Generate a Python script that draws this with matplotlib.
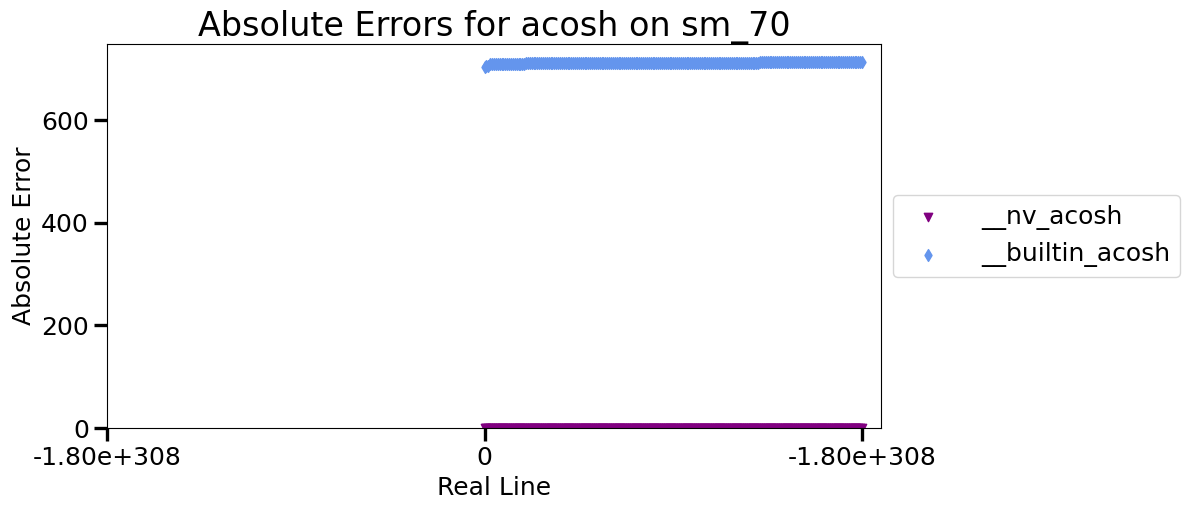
import matplotlib
matplotlib.use("Agg")
import matplotlib.pyplot as plt

# x positions in units of the largest double (~1.80e+308)
x_points = [
    0.000, 0.005, 0.010, 0.015, 0.020, 0.025, 0.030, 0.035, 0.040, 0.045,
    0.050, 0.055, 0.060, 0.065, 0.070, 0.075, 0.080, 0.085, 0.090, 0.095,
    0.100, 0.105, 0.110, 0.115, 0.120, 0.125, 0.130, 0.135, 0.140, 0.145,
    0.150, 0.155, 0.160, 0.165, 0.170, 0.175, 0.180, 0.185, 0.190, 0.195,
    0.200, 0.205, 0.210, 0.215, 0.220, 0.225, 0.230, 0.235, 0.240, 0.245,
    0.250, 0.255, 0.260, 0.265, 0.270, 0.275, 0.280, 0.285, 0.290, 0.295,
    0.300, 0.305, 0.310, 0.315, 0.320, 0.325, 0.330, 0.335, 0.340, 0.345,
    0.350, 0.355, 0.360, 0.365, 0.370, 0.375, 0.380, 0.385, 0.390, 0.395,
    0.400, 0.405, 0.410, 0.415, 0.420, 0.425, 0.430, 0.435, 0.440, 0.445,
    0.450, 0.455, 0.460, 0.465, 0.470, 0.475, 0.480, 0.485, 0.490, 0.495,
    0.500, 0.505, 0.510, 0.515, 0.520, 0.525, 0.530, 0.535, 0.540, 0.545,
    0.550, 0.555, 0.560, 0.565, 0.570, 0.575, 0.580, 0.585, 0.590, 0.595,
    0.600, 0.605, 0.610, 0.615, 0.620, 0.625, 0.630, 0.635, 0.640, 0.645,
    0.650, 0.655, 0.660, 0.665, 0.670, 0.675, 0.680, 0.685, 0.690, 0.695,
    0.700, 0.705, 0.710, 0.715, 0.720, 0.725, 0.730, 0.735, 0.740, 0.745,
    0.750, 0.755, 0.760, 0.765, 0.770, 0.775, 0.780, 0.785, 0.790, 0.795,
    0.800, 0.805, 0.810, 0.815, 0.820, 0.825, 0.830, 0.835, 0.840, 0.845,
    0.850, 0.855, 0.860, 0.865, 0.870, 0.875, 0.880, 0.885, 0.890, 0.895,
    0.900, 0.905, 0.910, 0.915, 0.920, 0.925, 0.930, 0.935, 0.940, 0.945,
    0.950, 0.955, 0.960, 0.965, 0.970, 0.975, 0.980, 0.985, 0.990, 0.995,
    1.000]

nv_errors = [0.0] * 201

builtin_errors = [704, 705, 706] + [709] * 19 + [711] * 124 + [712.5] * 55

series_names = ["__nv_acosh", "__builtin_acosh"]
series_colors = ["purple", "cornflowerblue"]
series_markers = ["v", "d"]

x_tick_pos = [-1.0, 0.0, 1.0]
x_tick_labels = ["-1.80e+308", "0", "-1.80e+308"]

fig = plt.figure(figsize=(11.9, 5.11), dpi=100)
ax = fig.add_axes([0.0899, 0.1624, 0.6504, 0.7515])

handles = []
for ys, col, mk in zip([nv_errors, builtin_errors], series_colors, series_markers):
    h = ax.scatter(x_points, ys, s=36, color=col, marker=mk)
    handles.append(h)

ax.set_xlim(left=-1.0)
ax.set_ylim(bottom=0)
ax.set_xticks(x_tick_pos)
ax.set_xticklabels(x_tick_labels)
ax.set_yticks([0, 200, 400, 600])
ax.tick_params(axis="both", which="major", labelsize=18, width=2.4, length=9.5)
for sp in ax.spines.values():
    sp.set_linewidth(0.8)

ax.set_xlabel("Real Line", fontsize=18)
ax.set_ylabel("Absolute Error", fontsize=18)
ax.set_title("Absolute Errors for acosh on sm_70", fontsize=24)

ax.legend(handles, series_names, loc="center left", bbox_to_anchor=(1.0, 0.5),
          fontsize=18, handletextpad=1.1)

fig.savefig("out.png", dpi=100)
